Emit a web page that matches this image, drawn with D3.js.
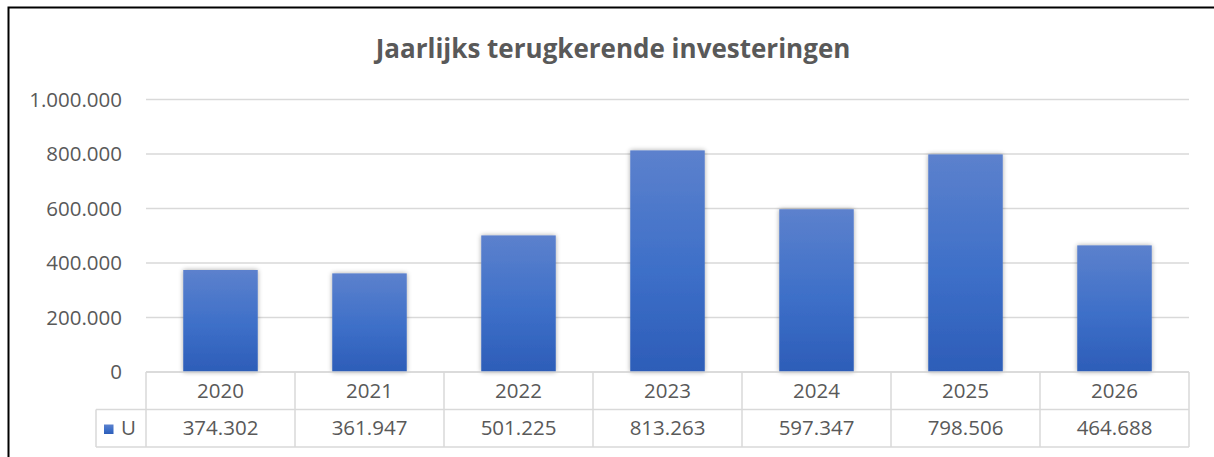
<!DOCTYPE html>
<html>
<head>
<meta charset="utf-8">
<script src="https://cdn.jsdelivr.net/npm/d3@7.9.0/dist/d3.min.js"></script>
<style>
  body { margin: 0; background: #fff; }
  svg { display: block; font-family: "Open Sans", sans-serif; }
</style>
</head>
<body>
<svg id="chart" width="1214" height="457"></svg>
<script>
// chart data
const years = ['2020', '2021', '2022', '2023', '2024', '2025', '2026'];
const values = [374302, 361947, 501225, 813263, 597347, 798506, 464688];
const yTicks = [0, 200000, 400000, 600000, 800000, 1000000];
const seriesName = 'U';
const title = 'Jaarlijks terugkerende investeringen';

const nl = d3.formatLocale({ decimal: ',', thousands: '.', grouping: [3], currency: ['€', ''] });
const fmt = nl.format(',');

const svg = d3.select('#chart');
const textColor = '#595959';
const lineColor = '#d9d9d9';

const plotLeft = 146, plotRight = 1189, plotTop = 99.5, plotBottom = 372;
const rowH = 37.5;

// outer frame
svg.append('rect')
  .attr('x', 8.5).attr('y', 7.5)
  .attr('width', 1214).attr('height', 460)
  .attr('fill', 'none').attr('stroke', '#000').attr('stroke-width', 2);

// title
svg.append('text')
  .attr('x', 613).attr('y', 58)
  .attr('text-anchor', 'middle')
  .attr('font-size', 26).attr('font-weight', 700)
  .attr('fill', textColor)
  .text(title);

const x = d3.scaleBand().domain(years).range([plotLeft, plotRight]).paddingInner(0).paddingOuter(0);
const y = d3.scaleLinear().domain([0, 1000000]).range([plotBottom, plotTop]);

// gridlines
svg.append('g').selectAll('line')
  .data(yTicks)
  .join('line')
  .attr('x1', plotLeft).attr('x2', plotRight)
  .attr('y1', d => y(d)).attr('y2', d => y(d))
  .attr('stroke', lineColor).attr('stroke-width', 1.5);

// y axis labels
svg.append('g').selectAll('text')
  .data(yTicks)
  .join('text')
  .attr('x', 122).attr('y', d => y(d))
  .attr('dy', '0.35em')
  .attr('text-anchor', 'end')
  .attr('font-size', 20.5)
  .attr('fill', textColor)
  .text(d => fmt(d));

// bar gradient + shadow
const defs = svg.append('defs');
const grad = defs.append('linearGradient')
  .attr('id', 'barGrad').attr('x1', 0).attr('y1', 0).attr('x2', 0).attr('y2', 1);
grad.append('stop').attr('offset', '0%').attr('stop-color', '#5c81cd');
grad.append('stop').attr('offset', '55%').attr('stop-color', '#3d6fc8');
grad.append('stop').attr('offset', '100%').attr('stop-color', '#2d5db8');

const shadow = defs.append('filter').attr('id', 'shadow')
  .attr('x', '-20%').attr('y', '-10%').attr('width', '140%').attr('height', '120%');
shadow.append('feGaussianBlur').attr('in', 'SourceAlpha').attr('stdDeviation', 2.5).attr('result', 'blur');
shadow.append('feComponentTransfer').attr('in', 'blur').attr('result', 'soft')
  .append('feFuncA').attr('type', 'linear').attr('slope', 0.35);
const merge = shadow.append('feMerge');
merge.append('feMergeNode').attr('in', 'soft');
merge.append('feMergeNode').attr('in', 'SourceGraphic');

const barW = x.bandwidth() * 0.5;
svg.append('g').selectAll('rect')
  .data(values)
  .join('rect')
  .attr('x', (d, i) => x(years[i]) + (x.bandwidth() - barW) / 2)
  .attr('y', d => y(d))
  .attr('width', barW)
  .attr('height', d => y(0) - y(d))
  .attr('fill', 'url(#barGrad)')
  .attr('filter', 'url(#shadow)');

// data table
const table = svg.append('g').attr('stroke', lineColor).attr('stroke-width', 1.5);
const row1 = plotBottom, row2 = plotBottom + rowH, row3 = plotBottom + 2 * rowH;
table.append('line').attr('x1', plotLeft).attr('x2', plotRight).attr('y1', row1).attr('y2', row1);
table.append('line').attr('x1', 96).attr('x2', plotRight).attr('y1', row2).attr('y2', row2);
table.append('line').attr('x1', 96).attr('x2', plotRight).attr('y1', row3).attr('y2', row3);
table.append('line').attr('x1', 96).attr('x2', 96).attr('y1', row2).attr('y2', row3);
table.selectAll('.vline')
  .data(years.concat(['end']))
  .join('line')
  .attr('x1', (d, i) => plotLeft + i * x.bandwidth())
  .attr('x2', (d, i) => plotLeft + i * x.bandwidth())
  .attr('y1', row1).attr('y2', row3);

svg.append('g').selectAll('text')
  .data(years)
  .join('text')
  .attr('x', d => x(d) + x.bandwidth() / 2)
  .attr('y', row1 + rowH / 2)
  .attr('dy', '0.35em')
  .attr('text-anchor', 'middle')
  .attr('font-size', 20.5)
  .attr('fill', textColor)
  .text(d => d);

svg.append('g').selectAll('text')
  .data(values)
  .join('text')
  .attr('x', (d, i) => x(years[i]) + x.bandwidth() / 2)
  .attr('y', row2 + rowH / 2)
  .attr('dy', '0.35em')
  .attr('text-anchor', 'middle')
  .attr('font-size', 20.5)
  .attr('fill', textColor)
  .text(d => fmt(d));

// legend key
svg.append('rect')
  .attr('x', 104).attr('y', 424.5).attr('width', 9.5).attr('height', 9.5)
  .attr('fill', 'url(#barGrad)');
svg.append('text')
  .attr('x', 121).attr('y', row2 + rowH / 2)
  .attr('dy', '0.35em')
  .attr('font-size', 20.5)
  .attr('fill', textColor)
  .text(seriesName);
</script>
</body>
</html>
